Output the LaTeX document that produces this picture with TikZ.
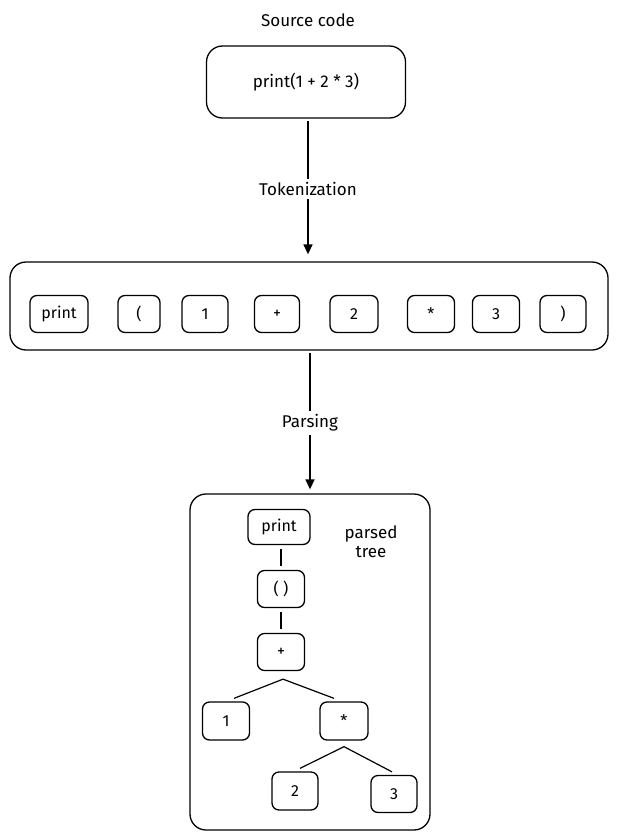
\documentclass[tikz,border=0pt]{standalone}
\usepackage{fontspec}
\setmainfont{Fira Sans}
\usetikzlibrary{arrows.meta,calc}
\begin{document}
\begin{tikzpicture}[x=1pt,y=-1pt,
  bx/.style={draw=black,line width=1.3pt,rounded corners=7pt,font=\fontsize{16}{18}\selectfont},
  big/.style={draw=black,line width=1.3pt,rounded corners=16pt},
  lbl/.style={fill=white,font=\fontsize{17}{19}\selectfont},
  arr/.style={line width=1.5pt,-{Triangle[length=10pt,width=9pt]}},
  ln/.style={line width=1.2pt}]
\useasboundingbox (0,0) rectangle (619,838);
\node[font=\fontsize{17}{19}\selectfont] (title) at (308,20) {Source code};
\node[big,minimum width=199pt,minimum height=72pt,font=\fontsize{17}{19}\selectfont] (src) at (306,82) {print(1 + 2 * 3)};
\node[big,minimum width=598pt,minimum height=88pt] (toks) at (309,306) {};
\foreach \n/\x/\w/\t in {tp/59/58/print,tl/139/42/(,t1/205/46/1,tplus/277/45/+,t2/354/48/2,tstar/431/47/*,t3/496/47/3,tr/563/46/)}
  \node[bx,minimum width=\w pt,minimum height=37pt,inner sep=1pt] (\n) at (\x,314) {\t};
\node[big,minimum width=240pt,minimum height=336pt] (tree) at (310,662) {};
\draw[arr] ($(src.south)+(2,2)$) -- ($(toks.north)+(-1,-7)$);
\node[lbl] (tok) at (308,189) {Tokenization};
\draw[arr] ($(toks.south)+(1,2)$) -- ($(tree.north)+(0,-4)$);
\node[lbl] (pars) at (310,423) {Parsing};
\node[bx,minimum width=62pt,minimum height=35pt,inner sep=1pt] (np) at (279,527) {print};
\node[font=\fontsize{17}{19}\selectfont,align=center] (pt) at (371,542) {parsed\\tree};
\node[bx,minimum width=47pt,minimum height=37pt] (nb) at (281,589) {( )};
\node[bx,minimum width=47pt,minimum height=37pt] (nplus) at (281,652) {+};
\node[bx,minimum width=47pt,minimum height=38pt] (n1) at (226,721) {1};
\node[bx,minimum width=48pt,minimum height=38pt] (nstar) at (344,721) {*};
\node[bx,minimum width=46pt,minimum height=38pt] (n2) at (295,791) {2};
\node[bx,minimum width=46pt,minimum height=37pt] (n3) at (394,794) {3};
\draw[ln] ($(np.south)+(2,4)$) -- ($(nb.north)+(0,-4)$);
\draw[ln] ($(nb.south)+(0,4)$) -- ($(nplus.north)+(0,-4)$);
\coordinate (sp) at ($(nplus.south)+(2,8)$);
\draw[ln] ($(n1.north)+(8,-3)$) -- (sp) -- ($(nstar.north)+(-10,-3)$);
\coordinate (ss) at ($(nstar.south)+(0,6)$);
\draw[ln] ($(n2.north)+(5,-3)$) -- (ss) -- ($(n3.north)+(-2,-3)$);
\end{tikzpicture}
\end{document}
